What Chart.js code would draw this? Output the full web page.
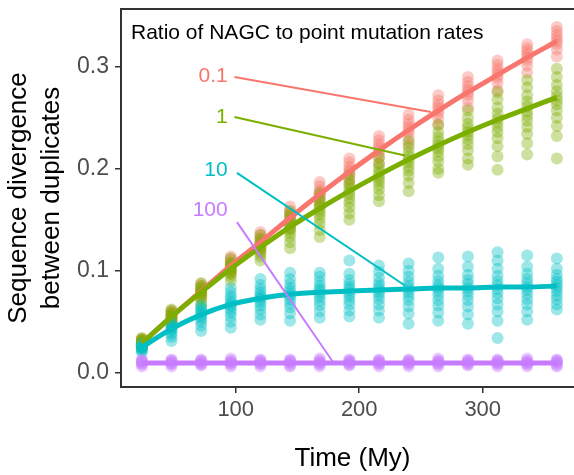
<!DOCTYPE html>
<html>
<head>
<meta charset="utf-8">
<script src="https://cdn.jsdelivr.net/npm/chart.js@4"></script>
<style>
  html, body { margin: 0; padding: 0; background: #fff; overflow: hidden; }
  #chart { display: block; }
</style>
</head>
<body>
<canvas id="chart" width="584" height="475"></canvas>
<script>
// time points (My)
const times = [24, 48, 72, 96, 120, 144, 168, 192, 216, 240, 264, 288, 312, 336, 360];
const xTicks = [100, 200, 300];
const yTicks = [0, 0.1, 0.2, 0.3];

const groups = ['0.1', '1', '10', '100'];
const colors = ['#F8766D', '#7CAE00', '#00BFC4', '#C77CFF'];

// simulated divergences, one list per time point
const pts01 = [
  [0.025, 0.027, 0.028, 0.029, 0.030, 0.031, 0.032, 0.033],
  [0.050, 0.052, 0.054, 0.055, 0.056, 0.057, 0.059, 0.061],
  [0.074, 0.077, 0.079, 0.080, 0.081, 0.083, 0.085, 0.087],
  [0.097, 0.100, 0.103, 0.105, 0.106, 0.108, 0.111, 0.114],
  [0.119, 0.123, 0.126, 0.128, 0.130, 0.132, 0.135, 0.138],
  [0.142, 0.146, 0.150, 0.152, 0.154, 0.156, 0.159, 0.163],
  [0.164, 0.169, 0.172, 0.175, 0.177, 0.179, 0.183, 0.187],
  [0.185, 0.190, 0.194, 0.197, 0.199, 0.202, 0.206, 0.210],
  [0.205, 0.211, 0.215, 0.218, 0.221, 0.224, 0.228, 0.232],
  [0.224, 0.230, 0.235, 0.238, 0.241, 0.244, 0.248, 0.253],
  [0.243, 0.249, 0.254, 0.257, 0.260, 0.263, 0.267, 0.272],
  [0.260, 0.267, 0.272, 0.275, 0.278, 0.281, 0.285, 0.290],
  [0.277, 0.284, 0.289, 0.292, 0.295, 0.298, 0.302, 0.306],
  [0.294, 0.301, 0.306, 0.309, 0.312, 0.315, 0.318, 0.322],
  [0.310, 0.317, 0.322, 0.325, 0.328, 0.331, 0.335, 0.339]
];
const pts1 = [
  [0.024, 0.026, 0.027, 0.028, 0.029, 0.030, 0.031, 0.032, 0.033, 0.034],
  [0.045, 0.048, 0.050, 0.052, 0.054, 0.055, 0.056, 0.058, 0.060, 0.062],
  [0.066, 0.070, 0.073, 0.076, 0.078, 0.079, 0.081, 0.083, 0.085, 0.088],
  [0.090, 0.094, 0.097, 0.099, 0.101, 0.102, 0.104, 0.106, 0.108, 0.112],
  [0.110, 0.114, 0.117, 0.120, 0.122, 0.124, 0.126, 0.128, 0.131, 0.135],
  [0.122, 0.128, 0.133, 0.137, 0.140, 0.142, 0.145, 0.148, 0.151, 0.155, 0.158],
  [0.133, 0.140, 0.146, 0.151, 0.155, 0.158, 0.161, 0.164, 0.167, 0.171, 0.176],
  [0.150, 0.156, 0.162, 0.167, 0.171, 0.175, 0.178, 0.181, 0.185, 0.189, 0.194],
  [0.168, 0.174, 0.180, 0.184, 0.188, 0.191, 0.194, 0.197, 0.201, 0.205, 0.211],
  [0.178, 0.186, 0.193, 0.198, 0.202, 0.206, 0.209, 0.212, 0.216, 0.221, 0.227],
  [0.196, 0.200, 0.207, 0.212, 0.217, 0.220, 0.223, 0.227, 0.231, 0.236, 0.243],
  [0.204, 0.210, 0.218, 0.224, 0.229, 0.233, 0.236, 0.240, 0.244, 0.250, 0.257],
  [0.199, 0.212, 0.222, 0.230, 0.236, 0.241, 0.245, 0.249, 0.254, 0.260, 0.268, 0.275],
  [0.214, 0.225, 0.234, 0.241, 0.247, 0.252, 0.256, 0.261, 0.266, 0.272, 0.280, 0.287],
  [0.210, 0.232, 0.242, 0.250, 0.257, 0.263, 0.267, 0.271, 0.276, 0.282, 0.290, 0.298]
];
const pts10 = [
  [0.020, 0.022, 0.023, 0.024, 0.025, 0.026, 0.027, 0.028],
  [0.031, 0.035, 0.038, 0.040, 0.042, 0.043, 0.045, 0.047, 0.049],
  [0.041, 0.046, 0.050, 0.053, 0.055, 0.057, 0.059, 0.061, 0.063, 0.066],
  [0.044, 0.050, 0.055, 0.059, 0.062, 0.065, 0.067, 0.069, 0.072, 0.075, 0.079, 0.083],
  [0.052, 0.057, 0.062, 0.066, 0.069, 0.072, 0.074, 0.076, 0.079, 0.082, 0.086, 0.092],
  [0.051, 0.058, 0.064, 0.068, 0.072, 0.075, 0.077, 0.080, 0.083, 0.087, 0.092, 0.098],
  [0.054, 0.060, 0.066, 0.070, 0.074, 0.077, 0.080, 0.082, 0.085, 0.089, 0.094, 0.098],
  [0.055, 0.061, 0.067, 0.071, 0.075, 0.078, 0.081, 0.084, 0.087, 0.091, 0.097, 0.110],
  [0.054, 0.061, 0.067, 0.072, 0.076, 0.079, 0.082, 0.085, 0.088, 0.093, 0.099, 0.105],
  [0.048, 0.058, 0.065, 0.071, 0.075, 0.079, 0.082, 0.085, 0.089, 0.094, 0.100, 0.107],
  [0.051, 0.059, 0.066, 0.071, 0.076, 0.080, 0.083, 0.086, 0.090, 0.095, 0.102, 0.113],
  [0.048, 0.057, 0.065, 0.071, 0.076, 0.080, 0.083, 0.087, 0.091, 0.096, 0.104, 0.114],
  [0.034, 0.051, 0.060, 0.067, 0.073, 0.078, 0.082, 0.086, 0.090, 0.095, 0.102, 0.110, 0.118],
  [0.052, 0.060, 0.067, 0.072, 0.077, 0.081, 0.084, 0.088, 0.092, 0.097, 0.104, 0.115],
  [0.062, 0.067, 0.072, 0.076, 0.080, 0.083, 0.086, 0.089, 0.092, 0.096, 0.102, 0.112]
];
const pts100 = [
  [0.006, 0.008, 0.009, 0.010, 0.011, 0.012, 0.013],
  [0.006, 0.008, 0.009, 0.010, 0.011, 0.012, 0.013],
  [0.007, 0.008, 0.009, 0.010, 0.011, 0.012, 0.013],
  [0.006, 0.008, 0.009, 0.010, 0.011, 0.012, 0.014],
  [0.006, 0.008, 0.009, 0.010, 0.011, 0.012, 0.013],
  [0.006, 0.007, 0.009, 0.010, 0.011, 0.012, 0.013],
  [0.006, 0.008, 0.009, 0.010, 0.011, 0.012, 0.014],
  [0.007, 0.008, 0.009, 0.010, 0.011, 0.012, 0.013],
  [0.006, 0.008, 0.009, 0.010, 0.011, 0.012, 0.013],
  [0.006, 0.008, 0.009, 0.010, 0.011, 0.012, 0.013],
  [0.006, 0.008, 0.009, 0.010, 0.011, 0.012, 0.014],
  [0.007, 0.008, 0.009, 0.010, 0.011, 0.012, 0.013],
  [0.006, 0.008, 0.009, 0.010, 0.011, 0.012, 0.013],
  [0.006, 0.008, 0.009, 0.010, 0.011, 0.012, 0.014],
  [0.006, 0.007, 0.009, 0.010, 0.011, 0.012, 0.013]
];

// fitted curves
const fit01 = [0.029, 0.055, 0.080, 0.105, 0.128, 0.152, 0.175, 0.197, 0.218, 0.238, 0.257, 0.275, 0.292, 0.309, 0.325];
const fit1 = [0.029, 0.055, 0.079, 0.102, 0.123, 0.143, 0.161, 0.178, 0.194, 0.209, 0.223, 0.236, 0.248, 0.259, 0.270];
const fit10 = [0.025, 0.043, 0.057, 0.067, 0.073, 0.077, 0.079, 0.080, 0.081, 0.082, 0.083, 0.083, 0.084, 0.084, 0.085];
const fit100 = [0.0095, 0.0095, 0.0095, 0.0095, 0.0095, 0.0095, 0.0095, 0.0095, 0.0095, 0.0095, 0.0095, 0.0095, 0.0095, 0.0095, 0.0095];

// direct labels: text position and leader line (start -> end)
const labelX = [93.5, 93.5, 93.5, 93.5];
const labelY = [0.2908, 0.2506, 0.1987, 0.1595];
const segStartX = [99, 99, 101, 101];
const segStartY = [0.2899, 0.2507, 0.196, 0.1477];
const segEndX = [258, 237, 237, 179];
const segEndY = [0.2556, 0.2130, 0.0855, 0.0100];

const allPts = [pts01, pts1, pts10, pts100];
const allFits = [fit01, fit1, fit10, fit100];

function toPoints(cols) {
  const out = [];
  cols.forEach((col, i) => col.forEach(v => out.push({ x: times[i], y: v })));
  return out;
}

function alpha(hex, a) {
  const r = parseInt(hex.slice(1, 3), 16), g = parseInt(hex.slice(3, 5), 16), b = parseInt(hex.slice(5, 7), 16);
  return 'rgba(' + r + ',' + g + ',' + b + ',' + a + ')';
}

const datasets = [];
groups.forEach((g, i) => {
  datasets.push({
    label: g + ' points',
    data: toPoints(allPts[i]),
    backgroundColor: alpha(colors[i], 0.38),
    borderWidth: 0,
    pointRadius: 6,
    order: 20 - i
  });
});
groups.forEach((g, i) => {
  datasets.push({
    label: g + ' fit',
    data: times.map((t, k) => ({ x: t, y: allFits[i][k] })),
    showLine: true,
    borderColor: colors[i],
    borderWidth: 5,
    pointRadius: 0,
    tension: 0.3,
    order: 10 - i
  });
});
groups.forEach((g, i) => {
  datasets.push({
    label: g + ' label',
    data: [{ x: segStartX[i], y: segStartY[i] }, { x: segEndX[i], y: segEndY[i] }],
    showLine: true,
    borderColor: colors[i],
    borderWidth: 2,
    pointRadius: 0,
    order: 1
  });
});

const FONT = "'Liberation Sans', Arial, sans-serif";

const extras = {
  id: 'extras',
  afterDraw(chart) {
    const { ctx, chartArea, scales } = chart;
    ctx.save();
    // top frame line
    ctx.strokeStyle = '#333333';
    ctx.lineWidth = 2;
    ctx.beginPath();
    ctx.moveTo(chartArea.left, chartArea.top);
    ctx.lineTo(chart.width, chartArea.top);
    ctx.stroke();
    // annotation heading
    ctx.fillStyle = '#000';
    ctx.font = '21px ' + FONT;
    ctx.textAlign = 'left';
    ctx.textBaseline = 'middle';
    ctx.fillText('Ratio of NAGC to point mutation rates', chartArea.left + 10, chartArea.top + 24);
    // group labels
    ctx.font = '21px ' + FONT;
    ctx.textAlign = 'right';
    groups.forEach((g, i) => {
      ctx.fillStyle = colors[i];
      ctx.fillText(g, scales.x.getPixelForValue(labelX[i]), scales.y.getPixelForValue(labelY[i]));
    });
    ctx.restore();
  }
};

new Chart(document.getElementById('chart'), {
  type: 'scatter',
  data: { datasets: datasets },
  options: {
    responsive: false,
    animation: false,
    layout: { autoPadding: false, padding: { top: 9, left: 0, right: 0, bottom: 0 } },
    plugins: { legend: { display: false }, tooltip: { enabled: false } },
    scales: {
      x: {
        type: 'linear',
        min: 7.1,
        max: 382,
        afterBuildTicks: s => { s.ticks = xTicks.map(v => ({ value: v })); },
        afterFit: s => { s.height = 88; s.paddingLeft = 0; s.paddingRight = 0; },
        border: { display: true, color: '#333333', width: 2 },
        grid: { drawOnChartArea: false, drawTicks: true, tickLength: 6, color: '#333333', lineWidth: 1.5 },
        ticks: { color: '#4D4D4D', font: { size: 22, family: FONT }, padding: 4, maxRotation: 0 },
        title: { display: true, text: 'Time (My)', color: '#000', font: { size: 26, family: FONT }, padding: { top: 0, bottom: 1 } }
      },
      y: {
        type: 'linear',
        min: -0.014,
        max: 0.3566,
        afterBuildTicks: s => { s.ticks = yTicks.map(v => ({ value: v })); },
        afterFit: s => { s.width = 121; s.paddingTop = 0; s.paddingBottom = 0; },
        border: { display: true, color: '#333333', width: 2 },
        grid: { drawOnChartArea: false, drawTicks: true, tickLength: 6, color: '#333333', lineWidth: 1.5 },
        ticks: { color: '#4D4D4D', font: { size: 23, family: FONT }, padding: 6, callback: v => v.toFixed(1) },
        title: { display: true, text: ['Sequence divergence', 'between duplicates'], color: '#000', font: { size: 26, family: FONT, lineHeight: 1.25 }, padding: { top: 3, bottom: 0 } }
      }
    }
  },
  plugins: [extras]
});
</script>
</body>
</html>
